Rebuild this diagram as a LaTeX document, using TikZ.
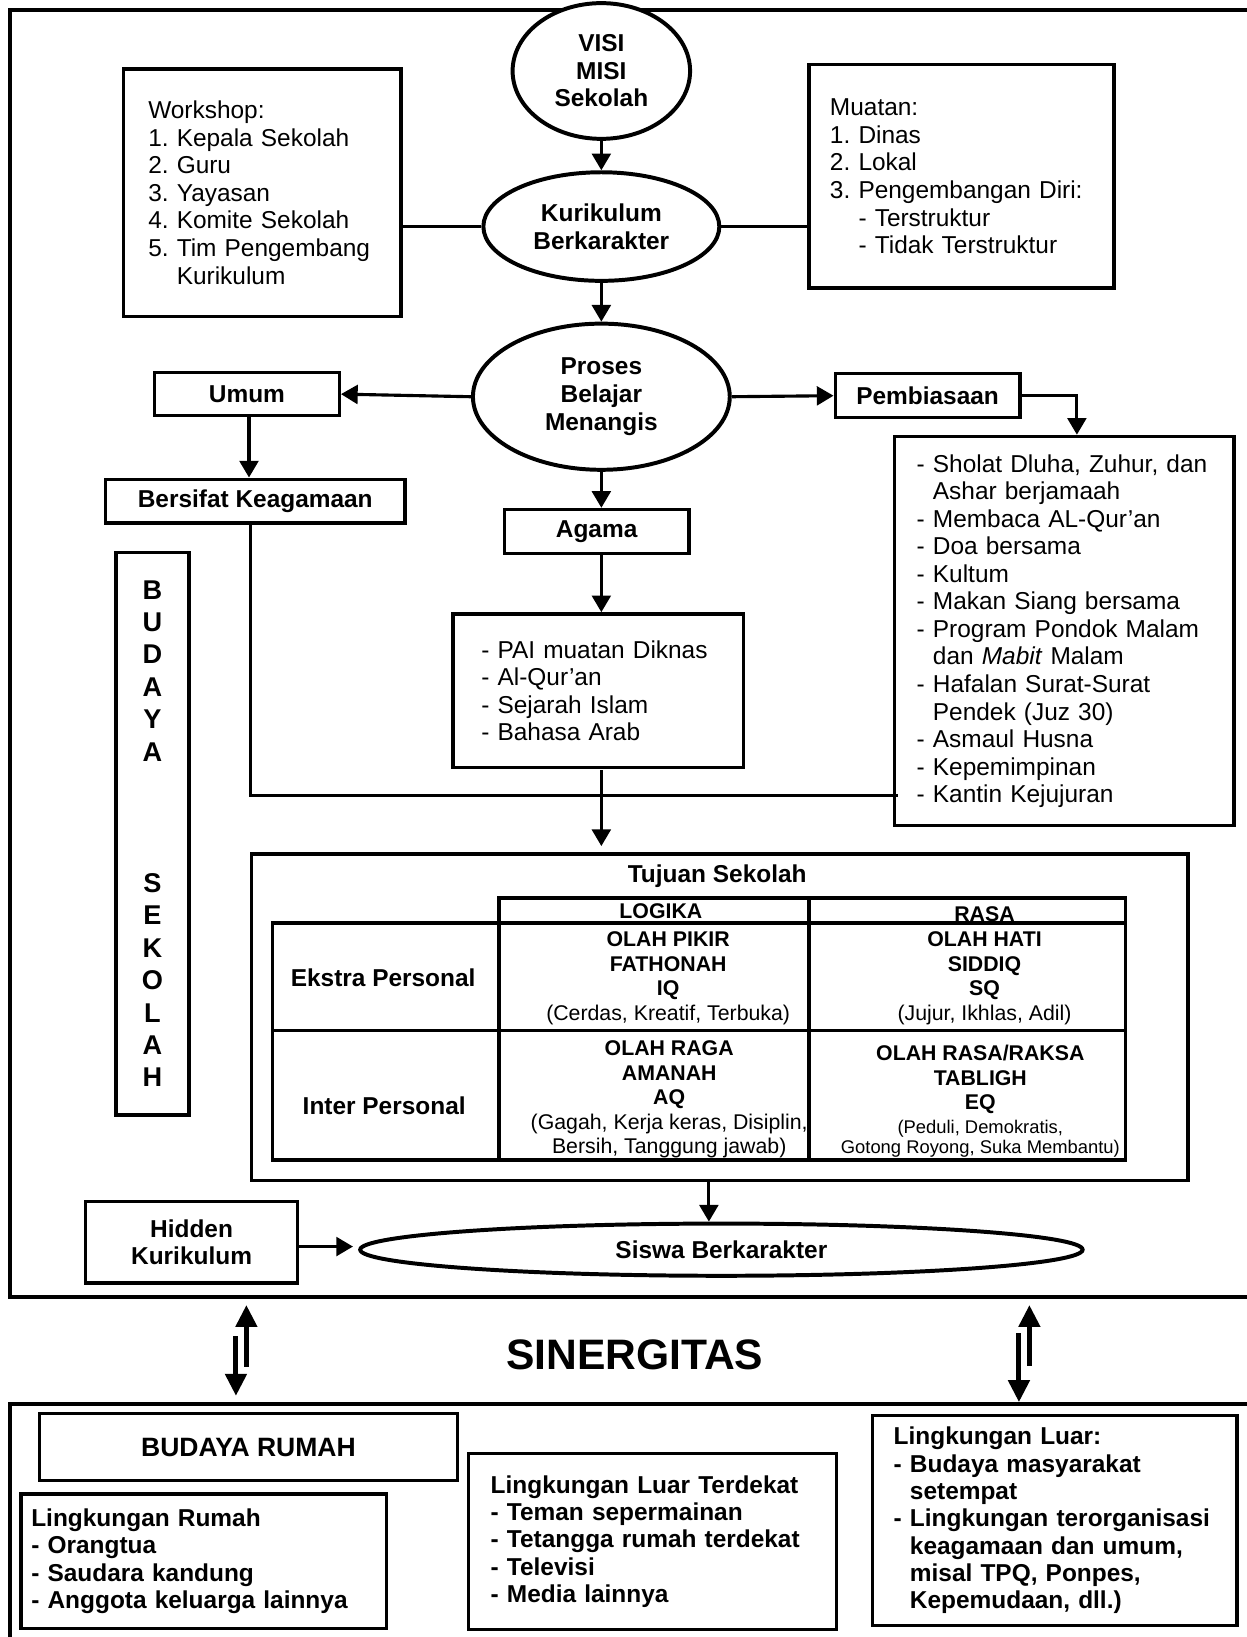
\documentclass[tikz,border=0pt]{standalone}
\usepackage{fontspec}
\setmainfont{Liberation Sans}
\frenchspacing
\usetikzlibrary{shapes.geometric, arrows.meta, positioning}
\newcommand{\bodyfont}{\fontsize{11.7}{13.2}\selectfont}
\newcommand{\cellfont}{\fontsize{10.2}{11.75}\selectfont}
\newcommand{\smallcellfont}{\fontsize{8.8}{10}\selectfont}
\tikzset{
  frame/.style={line width=1.9pt},
  box/.style={draw,line width=1.6pt,inner sep=2pt,font=\bodyfont\bfseries,align=center},
  listbox/.style={draw,line width=1.6pt,font=\bodyfont,align=left},
  oval/.style={draw,ellipse,line width=1.9pt,inner sep=0pt,font=\bodyfont\bfseries,align=center},
  flow/.style={line width=1.5pt,-{Triangle[length=8pt,width=9pt]}},
  plain/.style={line width=1.6pt},
  sync/.style={line width=2.4pt,-{Triangle[length=10.5pt,width=10pt]}},
  grid/.style={line width=1.6pt},
  cell/.style={font=\cellfont\bfseries,align=center},
}
\begin{document}
\begin{tikzpicture}[x=0.5pt,y=-0.5pt]
  \useasboundingbox (0,0) rectangle (1194,1568);
  % frames
  \draw[frame] (1194,10) -| (10,1242) -- (1194,1242);
  \draw[frame] (1194,1345) -| (10,1568);
  % top part
  \node[oval,minimum width=85pt,minimum height=65pt,fill=white] (visi) at (576,68) {VISI\\MISI\\Sekolah};
  \node[oval,minimum width=113pt,minimum height=52pt] (kur) at (576,217) {Kurikulum\\Berkarakter};
  \node[listbox,inner xsep=12pt,text width=109pt,minimum height=118.5pt] (ws) at (251,184.5)
    {Workshop:\\1. Kepala Sekolah\\2. Guru\\3. Yayasan\\4. Komite Sekolah\\5. Tim Pengembang\\\hphantom{5. }Kurikulum};
  \node[listbox,inner xsep=10pt,text width=126pt,minimum height=107pt] (mu) at (921,169)
    {Muatan:\\1. Dinas\\2. Lokal\\3. Pengembangan Diri:\\\hphantom{3. }- Terstruktur\\\hphantom{3. }- Tidak Terstruktur};
  \node[oval,minimum width=123pt,minimum height=70pt] (pbm) at (576,380) {Proses\\Belajar\\Menangis};
  \node[box,minimum width=88.5pt,minimum height=20.5pt] (umum) at (236.5,377.5) {Umum};
  \node[box,minimum width=88.5pt,minimum height=21pt] (pemb) at (888.5,379) {Pembiasaan};
  \node[box,minimum width=143.5pt,minimum height=21pt] (bk) at (244.5,480) {Bersifat Keagamaan};
  \node[box,minimum width=88.5pt,minimum height=21pt] (agama) at (571.5,509) {Agama};
  \node[listbox,inner xsep=13.5pt,text width=112pt,minimum height=73.5pt] (pai) at (573,661.5)
    {- PAI muatan Diknas\\- Al-Qur'an\\- Sejarah Islam\\- Bahasa Arab};
  \node[listbox,inner xsep=10.5pt,text width=141.5pt,minimum height=186.5pt] (keg) at (1019.5,604.5)
    {- Sholat Dluha, Zuhur, dan\\\hphantom{- }Ashar berjamaah\\- Membaca AL-Qur'an\\- Doa bersama\\- Kultum\\- Makan Siang bersama\\- Program Pondok Malam\\\hphantom{- }dan \textit{Mabit} Malam\\- Hafalan Surat-Surat\\\hphantom{- }Pendek (Juz 30)\\- Asmaul Husna\\- Kepemimpinan\\- Kantin Kejujuran};
  \node[box,minimum width=35pt,minimum height=269.5pt,font=\fontsize{13}{15.5}\selectfont\bfseries] (bs) at (146,798.5)
    {B\\U\\D\\A\\Y\\A\\[47.5pt]S\\E\\K\\O\\L\\A\\H};
  % tujuan sekolah
  \node[draw,line width=1.6pt,minimum width=448.5pt,minimum height=156.5pt] (tuj) at (689.5,974.5) {};
  \node[font=\bodyfont\bfseries] (tujT) at (687,839) {Tujuan Sekolah};
  \draw[grid] (478,860) rectangle (1078,1111);
  \draw[grid] (261,884) rectangle (1078,1111);
  \draw[grid] (775,860) -- (775,1111);
  \draw[grid] (261,987) -- (1078,987);
  \node[cell] (logika) at (633,873) {LOGIKA};
  \node[cell] (rasa) at (943,876) {RASA};
  \node[font=\bodyfont\bfseries] (ekstra) at (367,937) {Ekstra Personal};
  \node[font=\bodyfont\bfseries] (inter) at (368,1059) {Inter Personal};
  \node[cell] (pikir) at (640,937) {OLAH PIKIR\\FATHONAH\\IQ\\\mdseries(Cerdas, Kreatif, Terbuka)};
  \node[cell] (hati) at (943,937) {OLAH HATI\\SIDDIQ\\SQ\\\mdseries(Jujur, Ikhlas, Adil)};
  \node[cell] (raga) at (641,1053) {OLAH RAGA\\AMANAH\\AQ\\\mdseries(Gagah, Kerja keras, Disiplin,\\\mdseries Bersih, Tanggung jawab)};
  \node[cell] (raksa) at (939,1055) {OLAH RASA/RAKSA\\TABLIGH\\EQ\\[-0.5pt]\smallcellfont\mdseries(Peduli, Demokratis,\\[-2pt]\smallcellfont\mdseries Gotong Royong, Suka Membantu)};
  % hasil
  \node[oval,minimum width=346pt,minimum height=25pt] (siswa) at (691,1197) {Siswa Berkarakter};
  \node[box,minimum width=101.5pt,minimum height=39pt] (hk) at (183.5,1190) {Hidden\\Kurikulum};
  % sinergitas
  \node[font=\fontsize{20.4}{24}\selectfont\bfseries] (sin) at (608,1298) {SINERGITAS};
  \coordinate (upL) at (236,1309);
  \coordinate (dnL) at (226,1280);
  \coordinate (upR) at (986,1308);
  \coordinate (dnR) at (976,1277);
  \draw[sync] (upL) -- (236,1250);
  \draw[sync] (dnL) -- (226,1337);
  \draw[sync] (upR) -- (986,1250);
  \draw[sync] (dnR) -- (976,1343);
  % bottom part
  \node[box,minimum width=200pt,minimum height=32pt,font=\fontsize{12.7}{15}\selectfont\bfseries] (br) at (238,1386) {BUDAYA RUMAH};
  \node[listbox,font=\fontsize{11.7}{13.1}\selectfont\bfseries,inner xsep=5pt,text width=165pt,minimum height=64.5pt] (lr) at (195,1495.5)
    {Lingkungan Rumah\\- Orangtua\\- Saudara kandung\\- Anggota keluarga lainnya};
  \node[listbox,font=\fontsize{11.7}{13.1}\selectfont\bfseries,inner xsep=10.5pt,text width=155pt,minimum height=84.5pt] (llt) at (625,1476.5)
    {Lingkungan Luar Terdekat\\- Teman sepermainan\\- Tetangga rumah terdekat\\- Televisi\\- Media lainnya};
  \node[listbox,font=\fontsize{11.7}{13.1}\selectfont\bfseries,inner xsep=10pt,text width=154.5pt,minimum height=100.5pt] (ll) at (1010.5,1456.5)
    {Lingkungan Luar:\\- Budaya masyarakat\\\hphantom{- }setempat\\- Lingkungan terorganisasi\\\hphantom{- }keagamaan dan umum,\\\hphantom{- }misal TPQ, Ponpes,\\\hphantom{- }Kepemudaan, dll.)};
  % connectors
  \draw[flow] (visi) -- (kur);
  \draw[plain] (ws.east |- kur.west) -- (kur.west);
  \draw[plain] (kur.east) -- (kur.east -| mu.west);
  \draw[flow] (kur) -- (pbm);
  \draw[flow] (pbm.west) -- (umum.east);
  \draw[flow] (pbm.east) -- (pemb.west);
  \draw[flow] (pemb.east) -| ([xshift=6pt]keg.north);
  \draw[flow] ([xshift=1pt]umum.south) -- ([xshift=1pt]umum.south |- bk.north);
  \draw[flow] (pbm.south) -- (pbm.south |- agama.north);
  \draw[flow] (agama.south -| pbm) -- (pai.north -| pbm);
  \coordinate (turn) at (240,762);
  \draw[plain] (bk.south -| turn) -- (turn) -- ([xshift=2.5pt]turn -| keg.west);
  \coordinate (paiout) at (576,738);
  \draw[flow] (paiout) -- ([yshift=3pt]paiout |- tuj.north);
  \coordinate (tujout) at (679,1131);
  \draw[flow] (tujout) -- (tujout |- siswa.north);
  \draw[flow] (hk.east |- 0,1194) -- ([xshift=-2.5pt]siswa.west |- 0,1194);
\end{tikzpicture}
\end{document}
